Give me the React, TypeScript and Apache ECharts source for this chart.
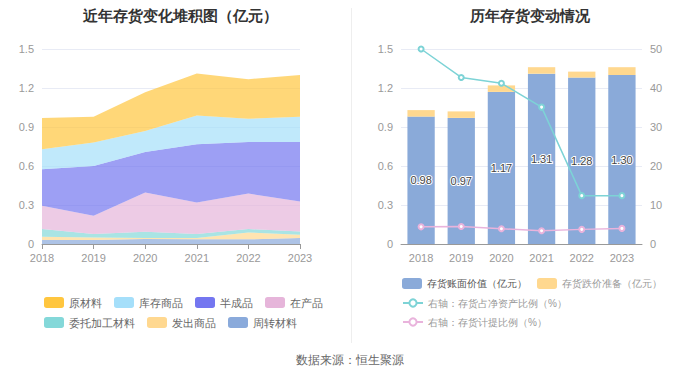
import React, { useEffect, useRef } from "react";
import * as echarts from "echarts";

const years = ["2018", "2019", "2020", "2021", "2022", "2023"];

const zhouZhuan = [0.03, 0.03, 0.038, 0.036, 0.036, 0.046];
const faChu = [0.026, 0.02, 0.008, 0.01, 0.053, 0.026];
const weiTuo = [0.059, 0.027, 0.049, 0.031, 0.026, 0.025];
const zaiChan = [0.179, 0.14, 0.301, 0.242, 0.273, 0.23];
const banCheng = [0.281, 0.383, 0.312, 0.448, 0.397, 0.458];
const kuCun = [0.153, 0.18, 0.161, 0.222, 0.178, 0.194];
const yuanCai = [0.241, 0.199, 0.299, 0.322, 0.305, 0.321];

const bookValue = [0.98, 0.97, 1.17, 1.31, 1.28, 1.3];
const impairment = [0.05, 0.05, 0.05, 0.05, 0.046, 0.06];
const ratioNetAsset = [50, 42.7, 41.2, 35.1, 12.4, 12.4];
const ratioProvision = [4.4, 4.5, 3.9, 3.4, 3.75, 4.0];

const leftTicks = [0, 0.3, 0.6, 0.9, 1.2, 1.5];

const areaSeries = [
  { name: "周转材料", data: zhouZhuan, color: "#8aaadb" },
  { name: "发出商品", data: faChu, color: "#ffd890" },
  { name: "委托加工材料", data: weiTuo, color: "#84d8d9" },
  { name: "在产品", data: zaiChan, color: "#e6b5da" },
  { name: "半成品", data: banCheng, color: "#7476f0" },
  { name: "库存商品", data: kuCun, color: "#a5dffa" },
  { name: "原材料", data: yuanCai, color: "#ffc63f" },
];

export default function App() {
  const ref = useRef<HTMLDivElement>(null);
  useEffect(() => {
    const chart = echarts.init(ref.current!, undefined, { renderer: "svg" });
    const axisLabel = { color: "#999", fontSize: 11 };
    const splitLine = { show: true, lineStyle: { color: "#e8ebf5" } };
    const legendCommon = {
      orient: "horizontal",
      itemWidth: 20,
      itemHeight: 11,
      icon: "roundRect",
      itemGap: 12,
      width: 300,
      textStyle: { color: "#666", fontSize: 11 },
    };
    const option: any = {
      animation: false,
      title: [
        {
          text: "近年存货变化堆积图（亿元）",
          left: 175,
          textAlign: "center",
          top: 3,
          textStyle: { fontSize: 15, fontWeight: "bold", color: "#333" },
        },
        {
          text: "历年存货变动情况",
          left: 525,
          textAlign: "center",
          top: 3,
          textStyle: { fontSize: 15, fontWeight: "bold", color: "#333" },
        },
      ],
      graphic: [
        {
          type: "line",
          shape: { x1: 351.5, y1: 0, x2: 351.5, y2: 343 },
          style: { stroke: "#eeeeee", lineWidth: 1 },
        },
        {
          type: "text",
          x: 350,
          y: 360,
          style: {
            text: "数据来源：恒生聚源",
            fill: "#666",
            fontSize: 12,
            textAlign: "center",
            textVerticalAlign: "middle",
          },
        },
      ],
      legend: [
        {
          ...legendCommon,
          left: 39,
          top: 292,
          data: ["原材料", "库存商品", "半成品", "在产品"],
        },
        {
          ...legendCommon,
          left: 39,
          top: 312,
          data: ["委托加工材料", "发出商品", "周转材料"],
        },
        {
          ...legendCommon,
          left: 397,
          top: 273,
          itemGap: 10,
          textStyle: { color: "#999", fontSize: 10 },
          data: [
            { name: "存货账面价值（亿元）", textStyle: { color: "#555" } },
            { name: "存货跌价准备（亿元）", textStyle: { color: "#999" } },
          ],
        },
        {
          ...legendCommon,
          left: 397,
          top: 293,
          icon: undefined,
          itemHeight: 9,
          textStyle: { color: "#999", fontSize: 10 },
          data: ["右轴：存货占净资产比例（%）"],
        },
        {
          ...legendCommon,
          left: 397,
          top: 312,
          icon: undefined,
          itemHeight: 9,
          textStyle: { color: "#999", fontSize: 10 },
          data: ["右轴：存货计提比例（%）"],
        },
      ],
      grid: [
        { left: 42, right: 400, top: 49, bottom: 134 },
        { left: 401, right: 58, top: 49, bottom: 134 },
      ],
      xAxis: [
        {
          gridIndex: 0,
          type: "category",
          data: years,
          boundaryGap: false,
          axisLine: { lineStyle: { color: "#999" } },
          axisTick: { show: true, lineStyle: { color: "#999" } },
          axisLabel,
        },
        {
          gridIndex: 1,
          type: "category",
          data: years,
          axisLine: { lineStyle: { color: "#999" } },
          axisTick: { show: false },
          axisLabel,
        },
      ],
      yAxis: [
        {
          gridIndex: 0,
          type: "value",
          min: leftTicks[0],
          max: leftTicks[leftTicks.length - 1],
          interval: 0.3,
          axisLine: { show: false },
          axisTick: { show: false },
          axisLabel,
          splitLine,
        },
        {
          gridIndex: 1,
          type: "value",
          min: 0,
          max: 1.5,
          interval: 0.3,
          axisLine: { show: false },
          axisTick: { show: false },
          axisLabel,
          splitLine,
        },
        {
          gridIndex: 1,
          type: "value",
          min: 0,
          max: 50,
          interval: 10,
          position: "right",
          axisLine: { show: false },
          axisTick: { show: false },
          axisLabel,
          splitLine: { show: false },
        },
      ],
      series: [
        ...areaSeries.map((s) => ({
          name: s.name,
          type: "line",
          xAxisIndex: 0,
          yAxisIndex: 0,
          stack: "inv",
          data: s.data,
          symbol: "none",
          color: s.color,
          lineStyle: { width: 0 },
          areaStyle: { color: s.color, opacity: 0.7 },
        })),
        {
          name: "存货账面价值（亿元）",
          type: "bar",
          xAxisIndex: 1,
          yAxisIndex: 1,
          stack: "bar",
          barWidth: "68%",
          data: bookValue,
          color: "#8aaad9",
          label: {
            show: true,
            position: "inside",
            color: "#444",
            fontSize: 11,
            textBorderColor: "#fff",
            textBorderWidth: 2,
            formatter: (p: any) => p.value.toFixed(2),
          },
        },
        {
          name: "存货跌价准备（亿元）",
          type: "bar",
          xAxisIndex: 1,
          yAxisIndex: 1,
          stack: "bar",
          barWidth: "68%",
          data: impairment,
          color: "#ffd88f",
        },
        {
          name: "右轴：存货占净资产比例（%）",
          type: "line",
          xAxisIndex: 1,
          yAxisIndex: 2,
          data: ratioNetAsset,
          color: "#7dd3d6",
          symbol: "emptyCircle",
          symbolSize: 5,
          lineStyle: { width: 1.5 },
        },
        {
          name: "右轴：存货计提比例（%）",
          type: "line",
          xAxisIndex: 1,
          yAxisIndex: 2,
          data: ratioProvision,
          color: "#e9b3dc",
          symbol: "emptyCircle",
          symbolSize: 5,
          lineStyle: { width: 1.5 },
        },
      ],
    };
    chart.setOption(option);
    return () => chart.dispose();
  }, []);
  return <div ref={ref} style={{ width: 700, height: 378, margin: -8 }} />;
}
